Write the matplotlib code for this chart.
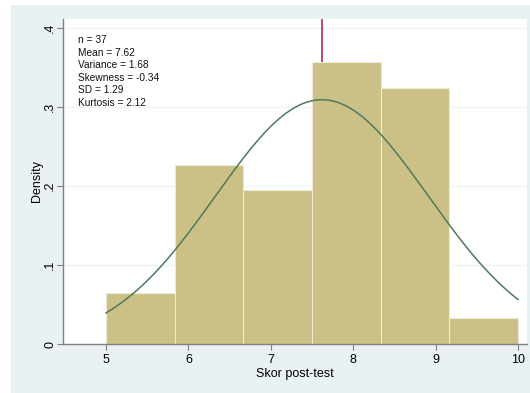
import numpy as np
import matplotlib.pyplot as plt
from matplotlib.patches import Rectangle

plt.rcParams['font.family'] = ['Liberation Sans', 'DejaVu Sans']

# histogram of post-test scores (counts per bin)
bin_edges = [5.0, 5.8333, 6.6667, 7.5, 8.3333, 9.1667, 10.0]
counts = [2, 7, 6, 11, 10, 1]
n = 37
mean = 7.62
sd = 1.29
stats_lines = ["n = 37", "Mean = 7.62", "Variance = 1.68",
               "Skewness = -0.34", "SD = 1.29", "Kurtosis = 2.12"]
xticks = [5, 6, 7, 8, 9, 10]
yticks = [0, 0.1, 0.2, 0.3, 0.4]
ytick_labels = ["0", ".1", ".2", ".3", ".4"]

edges = np.array(bin_edges)
widths = np.diff(edges)
density = np.array(counts) / (n * widths)

fig = plt.figure(figsize=(5.3, 3.93), dpi=100, facecolor='white')
# stata-like outer background
fig.patches.append(Rectangle((11/530, 0), 1, 388/393, transform=fig.transFigure,
                             facecolor='#E9F1F3', edgecolor='none', zorder=-5))

ax = fig.add_axes([63/530, 49/393, 464/530, 325/393])
ax.set_zorder(1)
ax.set_facecolor('white')

ax.axvline(mean, color='#B5294E', lw=1.2, zorder=1)
ax.bar(edges[:-1], density, width=widths, align='edge', color='#CBC187',
       edgecolor='#EDEAD6', linewidth=0.8, zorder=2)

xs = np.linspace(5, 10, 200)
ys = np.exp(-0.5 * ((xs - mean) / sd) ** 2) / (sd * np.sqrt(2 * np.pi))
ax.plot(xs, ys, color='#4E7A5E', lw=1.1, zorder=3)

ax.set_xlim(4.478, 10.109)
ax.set_ylim(0, 0.4114)
ax.set_xticks(xticks)
ax.set_yticks(yticks)
ax.set_yticklabels(ytick_labels, rotation=90, va='center')
ax.grid(axis='y', color='#EEF3F4', lw=1, zorder=0)
ax.set_axisbelow(True)

for s in ['top', 'right']:
    ax.spines[s].set_visible(False)
for s in ['left', 'bottom']:
    ax.spines[s].set_color('#808080')
    ax.spines[s].set_linewidth(1.0)
ax.tick_params(axis='both', color='#808080', length=4, width=0.8,
               labelsize=9, labelcolor='black', pad=3)
ax.tick_params(axis='y', pad=1)

ax.set_xlabel('Skor post-test', fontsize=9, labelpad=2)
ax.set_ylabel('Density', fontsize=9, labelpad=1)

for i, line in enumerate(stats_lines):
    ax.text(0.032, 0.935 - i * 0.0385, line, transform=ax.transAxes,
            fontsize=7.3, va='center', ha='left', color='#111111')

plt.savefig('out.png', dpi=100)
